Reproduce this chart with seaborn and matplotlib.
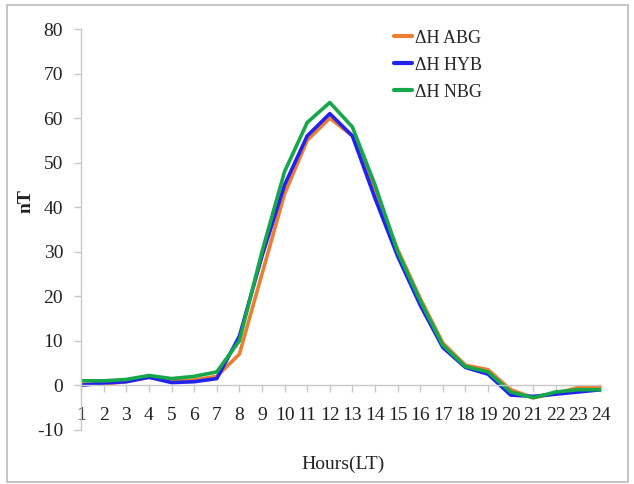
import matplotlib
matplotlib.use("Agg")
import matplotlib.pyplot as plt
import seaborn as sns
import pandas as pd
from matplotlib.patches import Rectangle

hours = list(range(1, 25))
abg = [0.2, 0.3, 0.8, 1.8, 1.0, 1.2, 2.0, 7.0, 25.0, 43.0, 55.0, 60.0,
       56.0, 44.0, 30.5, 19.5, 9.5, 4.5, 3.5, -1.0, -2.8, -1.8, -0.5, -0.3]
hyb = [0.0, 0.5, 0.8, 1.8, 0.6, 0.8, 1.5, 11.0, 29.0, 45.0, 56.0, 61.0,
       56.0, 42.0, 29.0, 18.0, 8.5, 4.0, 2.5, -2.2, -2.5, -2.0, -1.5, -1.0]
nbg = [1.0, 1.0, 1.3, 2.2, 1.5, 2.0, 3.0, 10.0, 30.0, 48.0, 59.0, 63.5,
       58.0, 45.0, 30.0, 19.0, 9.0, 4.2, 3.0, -1.5, -2.8, -1.5, -1.0, -1.0]
series_names = ["\u0394H ABG", "\u0394H HYB", "\u0394H NBG"]
colors = ["#ED7D31", "#2222EE", "#14A84A"]

df = pd.DataFrame({"hour": hours * 3,
                   "value": abg + hyb + nbg,
                   "station": [n for n in series_names for _ in hours]})

sns.set_style("white")
plt.rcParams["font.family"] = ["Liberation Serif", "DejaVu Serif"]
plt.rcParams["axes.unicode_minus"] = False

fig = plt.figure(figsize=(6.34, 4.84), dpi=100)
ax = fig.add_axes([0.128, 0.112, 0.82, 0.828])

sns.lineplot(data=df, x="hour", y="value", hue="station", palette=colors,
             linewidth=2.6, ax=ax, legend=True)
for ln in ax.get_lines():
    ln.set_solid_joinstyle("round")
    ln.set_solid_capstyle("round")

ax.set_xlim(1, 24)
ax.set_ylim(-10, 80)
ax.set_xticks(hours)
ax.set_yticks(range(-10, 81, 10))

ax.spines["top"].set_visible(False)
ax.spines["right"].set_visible(False)
ax.spines["bottom"].set_position(("data", 0))
for s in ["left", "bottom"]:
    ax.spines[s].set_color("#c8c8c8")
    ax.spines[s].set_linewidth(1.0)

ax.tick_params(axis="x", direction="out", length=5, width=1, color="#c8c8c8",
               pad=11, labelsize=14, labelcolor="#222222", bottom=True)
ax.tick_params(axis="y", direction="out", length=5, width=1, color="#c8c8c8",
               pad=8, labelsize=14, labelcolor="#222222", left=True)

ax.set_xlabel("")
ax.set_ylabel("nT", fontsize=14, fontweight="bold", color="#222222")
ax.yaxis.set_label_coords(-0.09, 0.57)
fig.text(0.541, 0.04, "Hours(LT)", ha="center", va="center", fontsize=14,
         color="#222222")

leg = ax.legend(loc="upper left", bbox_to_anchor=(0.578, 1.03), frameon=False,
                fontsize=13, handlelength=1.0, handletextpad=0.15,
                labelspacing=0.55, borderaxespad=0.3)
for h in leg.get_lines():
    h.set_linewidth(3)

fig.patches.append(Rectangle((0.011, 0.004), 0.98, 0.985, transform=fig.transFigure,
                             fill=False, edgecolor="#bbbbbb", linewidth=1.2))

fig.savefig("out.png", dpi=100)
